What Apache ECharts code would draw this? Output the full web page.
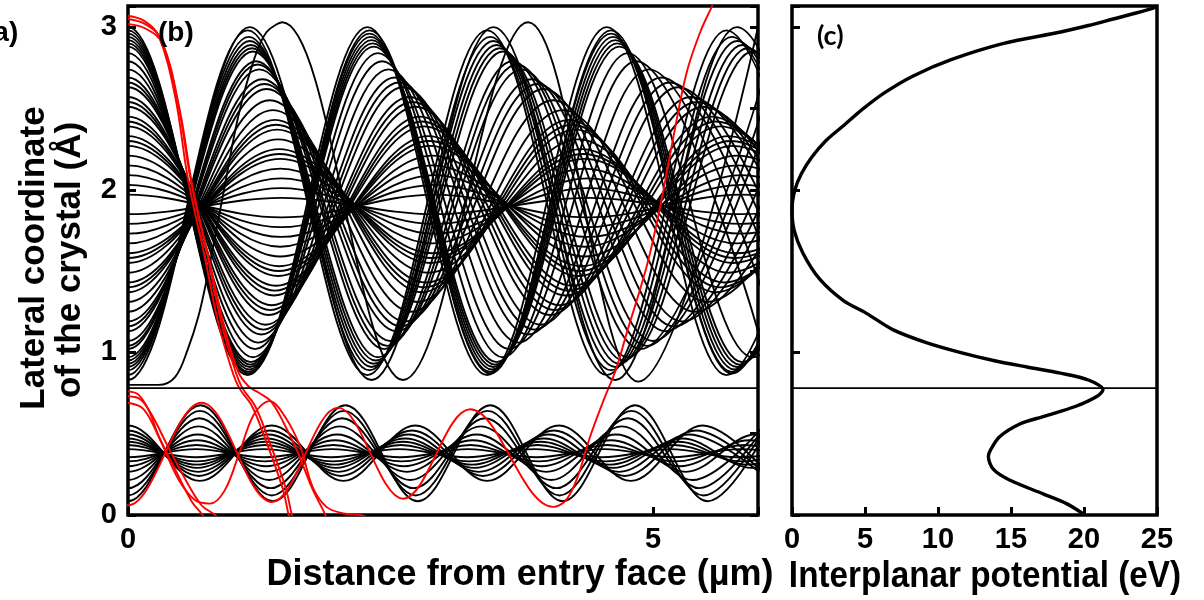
<!DOCTYPE html>
<html><head><meta charset="utf-8">
<script src="https://cdn.jsdelivr.net/npm/echarts@6.0.0/dist/echarts.min.js"></script>
<style>html,body{margin:0;padding:0;background:#fff}#c{width:1204px;height:600px}</style>
</head><body><div id="c"></div>
<script>
// ---------- DATA ----------
// Upper channel: start value at x=0, opposite turning value, and turning-point x positions (first one is the mirror point before the entry face)
const upperY0 = [3.00,2.98,2.96,2.94,2.92,2.90,2.88,2.84,2.79,2.74,2.69,2.66,2.63,2.57,2.54,2.51,2.45,2.42,2.39,2.33,2.30,2.27,2.21,2.15,2.09,2.03,1.97,1.85,1.79,1.73,1.67,1.61,1.58,1.55,1.49,1.43,1.40,1.37,1.31,1.25,1.19,1.16,1.13,1.07,1.04,1.02,0.97,0.95,0.93,0.91,0.89,0.86,0.83];
const upperY1 = [0.86,0.87,0.88,0.895,0.91,0.925,0.94,0.97,1.02,1.06,1.11,1.14,1.17,1.23,1.26,1.29,1.35,1.38,1.41,1.47,1.50,1.53,1.59,1.65,1.71,1.77,1.83,1.95,2.01,2.07,2.13,2.19,2.22,2.25,2.31,2.37,2.40,2.43,2.49,2.55,2.62,2.65,2.68,2.74,2.77,2.79,2.85,2.87,2.89,2.915,2.94,2.98,3.00];
const upperTurnX = [
 [-1.14,0,1.14,2.28,3.42,4.56,5.70,6.84],
 [-1.15,0,1.15,2.30,3.45,4.60,5.75,6.90],
 [-1.15,0,1.15,2.30,3.45,4.60,5.75,6.90],
 [-1.155,0,1.155,2.31,3.465,4.62,5.775,6.93],
 [-1.16,0,1.16,2.32,3.48,4.64,5.80,6.96],
 [-1.165,0,1.165,2.33,3.495,4.66,5.825,6.99],
 [-1.17,0,1.17,2.34,3.51,4.68,5.85,7.02],
 [-1.19,0,1.19,2.38,3.57,4.76,5.95,7.14],
 [-1.21,0,1.21,2.42,3.63,4.84,6.05],
 [-1.24,0,1.24,2.48,3.72,4.96,6.20],
 [-1.27,0,1.27,2.54,3.81,5.08,6.35],
 [-1.29,0,1.29,2.58,3.87,5.16,6.45],
 [-1.31,0,1.31,2.62,3.93,5.24,6.55],
 [-1.34,0,1.34,2.68,4.02,5.36,6.70],
 [-1.355,0,1.355,2.71,4.065,5.42,6.775],
 [-1.37,0,1.37,2.74,4.11,5.48,6.85],
 [-1.39,0,1.39,2.78,4.17,5.56,6.95],
 [-1.40,0,1.40,2.80,4.20,5.60,7.00],
 [-1.41,0,1.41,2.82,4.23,5.64,7.05],
 [-1.43,0,1.43,2.86,4.29,5.72,7.15],
 [-1.435,0,1.435,2.87,4.305,5.74,7.175],
 [-1.44,0,1.44,2.88,4.32,5.76,7.20],
 [-1.45,0,1.45,2.90,4.35,5.80,7.25],
 [-1.45,0,1.45,2.90,4.35,5.80,7.25],
 [-1.46,0,1.46,2.92,4.38,5.84,7.30],
 [-1.46,0,1.46,2.92,4.38,5.84,7.30],
 [-1.46,0,1.46,2.92,4.38,5.84,7.30],
 [-1.46,0,1.46,2.92,4.38,5.84,7.30],
 [-1.46,0,1.46,2.92,4.38,5.84,7.30],
 [-1.46,0,1.46,2.92,4.38,5.84,7.30],
 [-1.45,0,1.45,2.90,4.35,5.80,7.25],
 [-1.45,0,1.45,2.90,4.35,5.80,7.25],
 [-1.445,0,1.445,2.89,4.335,5.78,7.225],
 [-1.44,0,1.44,2.88,4.32,5.76,7.20],
 [-1.43,0,1.43,2.86,4.29,5.72,7.15],
 [-1.42,0,1.42,2.84,4.26,5.68,7.10],
 [-1.41,0,1.41,2.82,4.23,5.64,7.05],
 [-1.40,0,1.40,2.80,4.20,5.60,7.00],
 [-1.38,0,1.38,2.76,4.14,5.52,6.90],
 [-1.35,0,1.35,2.70,4.05,5.40,6.75],
 [-1.32,0,1.32,2.64,3.96,5.28,6.60],
 [-1.30,0,1.30,2.60,3.90,5.20,6.50],
 [-1.28,0,1.28,2.56,3.84,5.12,6.40],
 [-1.25,0,1.25,2.50,3.75,5.00,6.25],
 [-1.235,0,1.235,2.47,3.705,4.94,6.175],
 [-1.22,0,1.22,2.44,3.66,4.88,6.10],
 [-1.19,0,1.19,2.38,3.57,4.76,5.95,7.14],
 [-1.18,0,1.18,2.36,3.54,4.72,5.90,7.08],
 [-1.17,0,1.17,2.34,3.51,4.68,5.85,7.02],
 [-1.16,0,1.16,2.32,3.48,4.64,5.80,6.96],
 [-1.15,0,1.15,2.30,3.45,4.60,5.75,6.90],
 [-1.14,0,1.14,2.28,3.42,4.56,5.70,6.84],
 [-1.16,0,1.16,2.32,3.48,4.64,5.80,6.96]
];
// Trajectory starting at the barrier top (lingers, then oscillates)
const separatrixPts = [[0,0.80],[0.29,0.80],[0.45,0.85],[0.57,1.02],[0.67,1.22],[0.75,1.45],[0.90,1.95],[1.05,2.45],[1.20,2.80],[1.32,2.97],[1.47,3.03],[2.62,0.83],[3.81,3.03],[4.86,0.82],[6.00,3.00]];

// Lower channel
const lowerY0 = [0.085,0.12,0.165,0.215,0.265,0.30,0.33,0.355,0.405,0.43,0.45,0.47,0.495,0.52,0.55];
const lowerY1 = [0.675,0.64,0.595,0.545,0.495,0.46,0.43,0.405,0.355,0.33,0.31,0.29,0.265,0.24,0.21];
const lowerTurnX = [
 [-0.69,0,0.69,1.38,2.07,2.76,3.45,4.14,4.83,5.52,6.21],
 [-0.685,0,0.685,1.37,2.055,2.74,3.425,4.11,4.795,5.48,6.165],
 [-0.68,0,0.68,1.36,2.04,2.72,3.40,4.08,4.76,5.44,6.12],
 [-0.672,0,0.672,1.344,2.016,2.688,3.36,4.032,4.704,5.376,6.048],
 [-0.664,0,0.664,1.328,1.992,2.656,3.32,3.984,4.648,5.312,5.976,6.64],
 [-0.657,0,0.657,1.314,1.971,2.628,3.285,3.942,4.599,5.256,5.913,6.57],
 [-0.652,0,0.652,1.304,1.956,2.608,3.26,3.912,4.564,5.216,5.868,6.52],
 [-0.648,0,0.648,1.296,1.944,2.592,3.24,3.888,4.536,5.184,5.832,6.48],
 [-0.645,0,0.645,1.29,1.935,2.58,3.225,3.87,4.515,5.16,5.805,6.45],
 [-0.65,0,0.65,1.30,1.95,2.60,3.25,3.90,4.55,5.20,5.85,6.50],
 [-0.655,0,0.655,1.31,1.965,2.62,3.275,3.93,4.585,5.24,5.895,6.55],
 [-0.66,0,0.66,1.32,1.98,2.64,3.30,3.96,4.62,5.28,5.94,6.60],
 [-0.668,0,0.668,1.336,2.004,2.672,3.34,4.008,4.676,5.344,6.012],
 [-0.676,0,0.676,1.352,2.028,2.704,3.38,4.056,4.732,5.408,6.084],
 [-0.684,0,0.684,1.368,2.052,2.736,3.42,4.104,4.788,5.472,6.156]
];

// Dechanneling (red) trajectories
const redTopA = [[0,3.07],[0.15,3.04],[0.29,2.95],[0.45,2.57],[0.57,2.07],[0.73,1.59],[0.86,1.18],[0.99,0.89],[1.06,0.78],[1.18,0.67],[1.30,0.48],[1.47,0.17],[1.53,0.0],[1.57,-0.1]];
const redTopB = [[0,3.05],[0.16,3.02],[0.31,2.93],[0.47,2.55],[0.60,2.05],[0.76,1.59],[0.89,1.18],[1.02,0.89],[1.09,0.78],[1.21,0.67],[1.33,0.48],[1.50,0.17],[1.56,0.0],[1.60,-0.1]];
const redTopC = [[0,3.02],[0.17,2.99],[0.33,2.90],[0.49,2.50],[0.62,2.00],[0.78,1.55],[0.92,1.15],[1.05,0.88],[1.15,0.79],[1.25,0.75],[1.36,0.70],[1.48,0.57],[1.62,0.38],[1.75,0.17],[1.88,0.0],[1.93,-0.08]];
const redLowA = [[0,0.76],[0.10,0.74],[0.20,0.64],[0.29,0.49],[0.45,0.28],[0.61,0.08],[0.71,0.0],[0.76,-0.06]];
const redLowB = [[0,0.73],[0.12,0.71],[0.24,0.60],[0.35,0.46],[0.52,0.25],[0.70,0.06],[0.83,0.0],[0.88,-0.04]];
const redLowU = [[0,0.69],[0.15,0.65],[0.30,0.47],[0.48,0.22],[0.64,0.09],[0.78,0.07],[0.92,0.15],[1.06,0.38],[1.20,0.62],[1.35,0.70],[1.50,0.60],[1.64,0.42],[1.76,0.17],[1.89,0.05],[2.05,0.01],[2.21,0.0],[2.30,-0.02]];
const redLong = [[-0.70,0.69],[0,0.06],[0.70,0.69],[1.37,0.08],[2.00,0.66],[2.62,0.10],[3.26,0.65],[4.05,0.05],[4.17,0.09],[4.28,0.23],[4.40,0.48],[4.52,0.69],[4.65,0.90],[4.75,1.12],[4.94,1.53],[5.07,1.90],[5.19,2.31],[5.32,2.72],[5.45,2.97],[5.57,3.14],[5.65,3.26]];

// Barrier between the two channels
const barrierY = 0.78;

// Interplanar potential (eV) versus lateral coordinate (Å)
const potY = [0.01,0.07,0.13,0.215,0.28,0.36,0.40,0.48,0.56,0.605,0.667,0.73,0.77,0.83,0.872,0.91,0.95,1.00,1.06,1.14,1.24,1.32,1.45,1.61,1.75,1.88,2.00,2.10,2.20,2.30,2.40,2.50,2.60,2.70,2.80,2.90,2.97,3.01,3.05,3.09,3.125];
const potV = [19.9,18.8,17.2,14.9,13.8,13.45,13.6,14.2,15.6,17.2,19.4,20.9,21.3,20.3,18.4,16.1,13.8,11.5,9.2,6.9,5.1,3.5,1.9,0.75,0.15,0.0,0.2,0.65,1.35,2.3,3.6,4.9,6.4,8.3,10.9,14.5,18.4,20.3,22.0,23.7,25.0];

// Axis ticks
const xTicksB = [0,5];
const xTicksC = [0,5,10,15,20,25];
const yTicks = [0,1,2,3];

// ---------- CHART ----------
const chart = echarts.init(document.getElementById('c'), null, {renderer:'canvas'});
const AR = 'Liberation Sans, Arial, sans-serif';
const SM = 0.36;
const LW = 1.9;
const series = [];
function traj(data, color, width, z, smooth){
  series.push({type:'line', xAxisIndex:0, yAxisIndex:0, data:data, smooth:smooth, symbol:'none', showSymbol:false,
    silent:true, animation:false, z:z, lineStyle:{color:color, width:width}});
}
upperY0.forEach((y0,i)=>traj(upperTurnX[i].map((x,k)=>[x, k%2===1 ? y0 : upperY1[i]]), '#000', LW, 2, SM));
traj(separatrixPts, '#000', LW, 2, SM);
lowerY0.forEach((y0,i)=>traj(lowerTurnX[i].map((x,k)=>[x, k%2===1 ? y0 : lowerY1[i]]), '#000', LW, 2, SM));
[redTopA, redTopB, redTopC, redLowA, redLowB, redLowU, redLong].forEach(d=>traj(d, '#ff0000', 1.9, 3, SM));
// barrier lines
series.push({type:'line', xAxisIndex:0, yAxisIndex:0, data:[[0,barrierY],[6,barrierY]], symbol:'none', silent:true, z:4, lineStyle:{color:'#000', width:1.8}});
series.push({type:'line', xAxisIndex:1, yAxisIndex:2, data:[[0,barrierY],[25,barrierY]], symbol:'none', silent:true, z:4, lineStyle:{color:'#000', width:1.8}});
// potential
series.push({type:'line', xAxisIndex:1, yAxisIndex:2, data:potV.map((v,i)=>[v,potY[i]]), smooth:0.3, symbol:'none', silent:true, z:5, lineStyle:{color:'#000', width:3.4}});

const lbl = {fontFamily:AR, fontWeight:'bold', fontSize:29, color:'#000'};
const tick = {show:true, inside:true, length:8, lineStyle:{color:'#000', width:3}};
chart.setOption({
  animation:false,
  backgroundColor:'#fff',
  grid:[
    {left:128, top:6, width:630, height:509, show:true, borderColor:'#000', borderWidth:3.5, backgroundColor:'transparent'},
    {left:792, top:6, width:365, height:509, show:true, borderColor:'#000', borderWidth:3.5, backgroundColor:'transparent'}
  ],
  xAxis:[
    {gridIndex:0, type:'value', min:0, max:6, interval:5, axisLine:{show:false}, axisTick:tick, splitLine:{show:false},
     axisLabel:Object.assign({margin:10, formatter:v=>xTicksB.includes(v)?String(v):''}, lbl)},
    {gridIndex:1, type:'value', min:0, max:25, interval:5, axisLine:{show:false}, axisTick:tick, splitLine:{show:false},
     axisLabel:Object.assign({margin:10, formatter:v=>xTicksC.includes(v)?String(v):''}, lbl)}
  ],
  yAxis:[
    {gridIndex:0, type:'value', min:0, max:3.13, interval:1, axisLine:{show:false}, axisTick:tick, splitLine:{show:false},
     axisLabel:Object.assign({margin:11, formatter:v=>yTicks.includes(v)?String(v):''}, lbl)},
    {gridIndex:0, type:'value', position:'right', min:0, max:3.13, interval:0.5, axisLine:{show:false}, axisTick:tick, splitLine:{show:false}, axisLabel:{show:false}},
    {gridIndex:1, type:'value', min:0, max:3.13, interval:1, axisLine:{show:false}, axisTick:tick, splitLine:{show:false}, axisLabel:{show:false}}
  ],
  series:series,
  graphic:[
    {type:'text', left:-16, top:19, z:100, style:{text:'(a)', font:'bold 28px '+AR, fill:'#000'}},
    {type:'text', left:158, top:19, z:100, style:{text:'(b)', font:'bold 28px '+AR, fill:'#000'}},
    {type:'text', left:817, top:23, z:100, style:{text:'(c)', font:'bold 27px Lato, sans-serif', fill:'#000'}},
    {type:'text', x:520, y:575, z:100, style:{text:'Distance from entry face (µm)', font:'bold 36px '+AR, fill:'#000', align:'center', verticalAlign:'middle'}},
    {type:'text', x:985, y:577, scaleX:0.925, z:100, style:{text:'Interplanar potential (eV)', font:'bold 36px '+AR, fill:'#000', align:'center', verticalAlign:'middle'}},
    {type:'text', x:34, y:258, rotation:Math.PI/2, z:100, style:{text:'Lateral coordinate', font:'bold 35px '+AR, fill:'#000', align:'center', verticalAlign:'middle'}},
    {type:'text', x:70, y:260, rotation:Math.PI/2, z:100, style:{text:'of the crystal (Å)', font:'bold 35px '+AR, fill:'#000', align:'center', verticalAlign:'middle'}}
  ]
});
</script></body></html>
